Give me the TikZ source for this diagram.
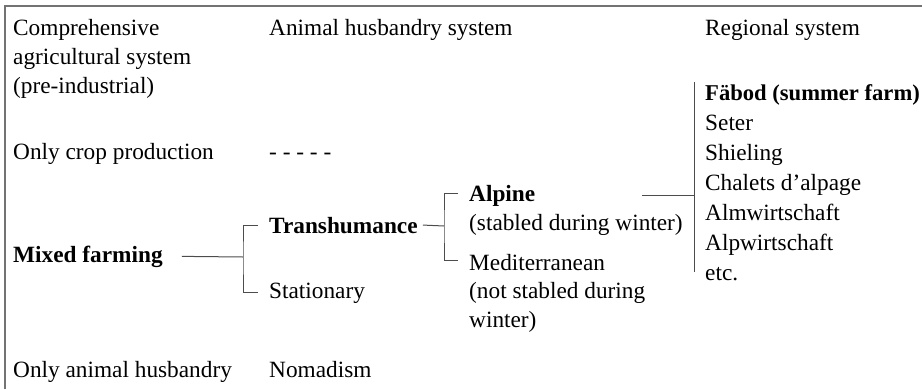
\documentclass[tikz,border=0pt]{standalone}
\usepackage{fontspec}
\setmainfont{Liberation Serif}
\usepackage{tikz}

\begin{document}
\begin{tikzpicture}[x=1pt,y=-1pt]
\tikzstyle{every node}+=[inner sep=0pt,anchor=base west,align=left,font=\fontsize{23.3}{29}\selectfont]
\tikzstyle{link}=[draw=black!70,line width=1pt]
\tikzstyle{frame}=[draw=black!55,line width=1.6pt]
\useasboundingbox (0,0) rectangle (922,389);
\draw [frame] (5,389) -- (5,6) -- (922,6);
\node (comp) at (13,93) {Comprehensive\\agricultural system\\(pre-industrial)};
\node (animal) at (269,35) {Animal husbandry system};
\node (regional) at (705,35) {Regional system};
\node (crop) at (13,159) {Only crop production};
\node (none) at (269,159) {- - - - -};
\node (mixed) at (13,262) {\textbf{Mixed farming}};
\node (trans) at (269,233) {\textbf{Transhumance}};
\node (stat) at (269,298) {Stationary};
\node (alpine) at (469,230) [font=\fontsize{23.3}{28.5}\selectfont] {\textbf{Alpine}\\(stabled during winter)};
\node (medit) at (469,327) [font=\fontsize{23.3}{28.5}\selectfont] {Mediterranean\\(not stabled during\\winter)};
\node (names) at (705,280) [font=\fontsize{23.3}{30}\selectfont] {{\fontsize{22.6}{30}\selectfont\textbf{Fäbod (summer farm)}}\\Seter\\Shieling\\Chalets d’alpage\\Almwirtschaft\\Alpwirtschaft\\etc.};
\node (animalonly) at (13,377) {Only animal husbandry};
\node (nomad) at (269,377) {Nomadism};
\coordinate (mfork) at (243,257);
\coordinate (mtop) at (258,225);
\coordinate (mbot) at (258,292);
\coordinate (tfork) at (444,226);
\coordinate (ttop) at (458,193);
\coordinate (tbot) at (458,260);
\coordinate (aend) at (642,195);
\coordinate (rtop) at (694,82);
\coordinate (rbot) at (694,272);
\draw [link] ([xshift=19pt]mixed.east) -- (mfork);
\draw [link] (mtop) -| (mfork) |- (mbot);
\draw [link] ([xshift=5pt]trans.east) -- (tfork);
\draw [link] (ttop) -| (tfork) |- (tbot);
\draw [link] (aend) -- (aend -| rtop);
\draw [link] (rtop) -- (rbot);
\end{tikzpicture}
\end{document}
